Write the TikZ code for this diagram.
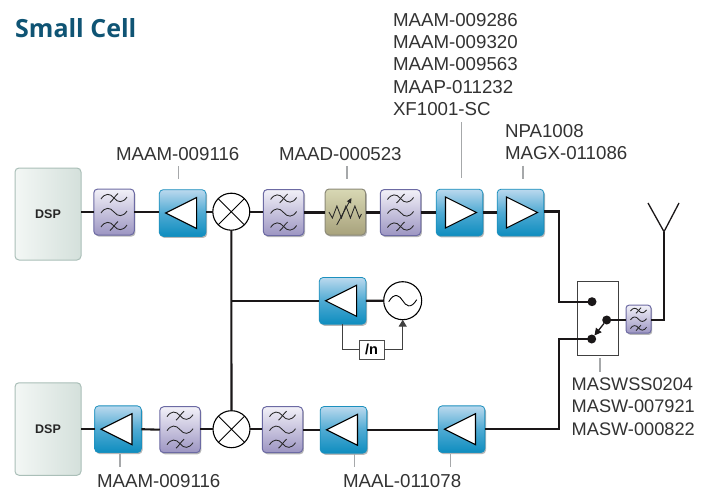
\documentclass[tikz,border=0pt]{standalone}
\usepackage{fontspec}
\setmainfont{Liberation Sans}
\newfontfamily\titlefont{Open Sans}
\usetikzlibrary{shadows,arrows.meta,calc}
\definecolor{wire}{HTML}{1A1718}
\definecolor{leader}{HTML}{A6A8AA}
\definecolor{labelc}{HTML}{333333}
\definecolor{titlec}{HTML}{0F5474}
\definecolor{ampedge}{HTML}{1C90BE}
\definecolor{amptop}{HTML}{BBD9EE}
\definecolor{ampmid}{HTML}{4FAAD3}
\definecolor{ampbot}{HTML}{0E8DBF}
\definecolor{filtedge}{HTML}{6C6AA3}
\definecolor{filttop}{HTML}{F2F1F8}
\definecolor{filtbot}{HTML}{9C95C2}
\definecolor{attedge}{HTML}{8C8A78}
\definecolor{atttop}{HTML}{D8D8B4}
\definecolor{attbot}{HTML}{A8A27C}
\definecolor{dspedge}{HTML}{AABFB8}
\definecolor{dspleft}{HTML}{F3F7F5}
\definecolor{dspright}{HTML}{D4E0DB}
\tikzset{
  softshadow/.style={drop shadow={shadow xshift=1.2pt,shadow yshift=-1.6pt,opacity=.28,fill=black}},
  block/.style={inner sep=0pt,outer sep=0pt,rounded corners=4pt,softshadow},
  ampbox/.style={block,minimum width=46.7pt,minimum height=46.7pt,draw=ampedge,line width=.8pt,
     top color=amptop,bottom color=ampbot,middle color=ampmid},
  filtbox/.style={block,minimum width=40.5pt,minimum height=46pt,draw=filtedge,line width=1pt,
     top color=filttop,bottom color=filtbot},
  smallfilt/.style={filtbox,minimum width=25pt,minimum height=28pt,rounded corners=3pt},
  attbox/.style={block,minimum width=40.5pt,minimum height=46pt,draw=attedge,line width=1pt,
     top color=atttop,bottom color=attbot},
  dspbox/.style={inner sep=0pt,outer sep=0pt,rounded corners=4pt,minimum width=66pt,draw=dspedge,line width=1pt,
     left color=dspleft,right color=dspright,font=\fontsize{12.5}{14}\selectfont\bfseries,text=black!85},
  mixer/.style={circle,draw=black,line width=1.1pt,fill=white,minimum size=37pt,inner sep=0pt,outer sep=0pt,
     path picture={\draw[line width=.9pt] ($(path picture bounding box.center)+(-13,-13)$)--($(path picture bounding box.center)+(13,13)$)
       ($(path picture bounding box.center)+(13,-13)$)--($(path picture bounding box.center)+(-13,13)$);}},
  osc/.style={circle,draw=black,line width=1.1pt,fill=white,minimum size=38pt,inner sep=0pt,outer sep=0pt},
  swbox/.style={draw=black!75,line width=1.1pt,fill=white,minimum width=41pt,minimum height=74pt,inner sep=0pt,outer sep=0pt},
  divbox/.style={draw=black!70,line width=1pt,fill=white,minimum width=25pt,minimum height=19pt,inner sep=0pt,outer sep=0pt,
     font=\fontsize{14.5}{15}\selectfont\bfseries},
  swdot/.style={circle,fill=wire,minimum size=9pt,inner sep=0pt,outer sep=0pt},
  rfwire/.style={draw=wire,line width=2.1pt},
  thin wire/.style={draw=black!75,line width=1.3pt},
  leaderline/.style={draw=leader,line width=1.2pt},
  partlabel/.style={font=\fontsize{18.7}{22.2}\selectfont,text=labelc,inner sep=0pt,outer sep=0pt},
  swlabel/.style={partlabel,font=\fontsize{18.2}{22.2}\selectfont},
  glyph/.style={line width=.85pt,draw=black!85},
  tri/.style={draw=black,line width=1.1pt,fill=white,line join=miter}
}
\newcommand{\onewave}[1]{(-13,#1+1) .. controls (-9,#1-5) and (-4,#1-5) .. (0,#1) .. controls (4,#1+5) and (9,#1+5) .. (13,#1-1)}
\newcommand{\filtglyph}[2][1]{%
  \begin{scope}[shift={(#2.center)},scale=#1]
    \draw[glyph] \onewave{-14} \onewave{0} \onewave{14};
    \draw[glyph] (-4,-9.5) .. controls (-1,-12) and (1,-16) .. (4,-18.5);
    \draw[glyph] (-4,18.5) .. controls (-1,16) and (1,12) .. (4,9.5);
  \end{scope}}
\newcommand{\lefttri}[1]{\draw[tri] ($(#1.center)+(-17,0)$) -- ($(#1.center)+(14,-15.5)$) -- ($(#1.center)+(14,15.5)$) -- cycle;}
\newcommand{\righttri}[1]{\draw[tri] ($(#1.center)+(17,0)$) -- ($(#1.center)+(-14,-15.5)$) -- ($(#1.center)+(-14,15.5)$) -- cycle;}
\begin{document}
\begin{tikzpicture}[x=1pt,y=-1pt]
\useasboundingbox (0,0) rectangle (710,490);
\fill[white] (0,0) rectangle (710,490);

% title
\node[anchor=base west,inner sep=0pt,text=titlec,font=\fontsize{25}{27}\selectfont\titlefont\bfseries] (title) at (15,37) {Small Cell};

% upper chain
\node[dspbox,minimum height=92pt] (dspa) at (48,214) {DSP};
\node[filtbox] (fa) at (114,212) {};
\node[ampbox] (aa) at (182.6,213) {};
\node[mixer] (mxa) at (231.3,211.7) {};
\node[filtbox] (fb) at (283.6,212.5) {};
\node[attbox] (att) at (345.4,212) {};
\node[filtbox] (fc) at (400.5,212.5) {};
\node[ampbox] (ab) at (459.5,212.5) {};
\node[ampbox] (ac) at (520.5,212.5) {};

% LO
\node[ampbox] (lo) at (342.6,300.8) {};
\node[osc] (vco) at (402.7,300.7) {};
\node[divbox] (div) at (371.5,349.5) {/n};

% lower chain
\node[dspbox,minimum height=92.5pt] (dspb) at (48,429) {DSP};
\node[ampbox] (ad) at (118,429.2) {};
\node[filtbox] (fd) at (180,429.7) {};
\node[mixer] (mxb) at (231.5,429.2) {};
\node[filtbox] (fe) at (282.5,429.7) {};
\node[ampbox] (ae) at (343.5,429.8) {};
\node[ampbox] (af) at (461.5,429.2) {};

% switch and antenna
\node[swbox] (sw) at (598.2,318.7) {};
\node[swdot] (sa) at (592,301.7) {};
\node[swdot] (sb) at (606.7,320) {};
\node[swdot] (sc) at (591.7,339) {};
\node[smallfilt] (ff) at (638.5,319.2) {};
\coordinate (antbase) at (664,231.7);
\coordinate (antl) at (648,203);
\coordinate (antr) at (679,203);
\coordinate (jct) at (231.4,300.8);
\coordinate (upbend) at (559,211.5);
\coordinate (lowbend) at (559,429.3);

% connectors
\draw[rfwire] (dspa.east |- fa.west) -- (fa.west);
\draw[rfwire] (fa.east) -- (aa.west |- fa.east);
\draw[rfwire] (aa.east |- mxa.west) -- (mxa.west);
\draw[rfwire] (mxa.east) -- (fb.west |- mxa.east);
\draw[rfwire] (fb.east) -- (att.west |- fb.east);
\draw[rfwire] (att.east |- fc.west) -- (fc.west);
\draw[rfwire] (fc.east) -- (ab.west);
\draw[rfwire] (ab.east) -- (ac.west);
\draw[rfwire,line join=miter] (ac.east |- upbend) -- (upbend) |- (sa.center);
\draw[rfwire] (mxa.south) -- (mxb.north);
\draw[rfwire] (jct) -- (lo.west |- jct);
\draw[rfwire] (lo.east) -- (vco.west);
\draw[rfwire] (dspb.east |- ad.west) -- (ad.west);
\draw[rfwire] (ad.east) -- (fd.west);
\draw[rfwire] (fd.east |- mxb.east) -- (mxb.west);
\draw[rfwire] (mxb.east) -- (fe.west |- mxb.east);
\draw[rfwire] (fe.east |- ae.west) -- (ae.west);
\draw[rfwire] (ae.east) -- (af.west |- ae.east);
\draw[rfwire,line join=miter] (af.east |- lowbend) -- (lowbend) |- (sc.center);
\draw[rfwire] (sb) -- (ff.west |- sb);
\draw[rfwire,line join=miter] (ff.east |- sb) -- (antbase |- sb) -- (antbase);
\draw[draw=wire,line width=1.3pt,line join=miter] (antl) -- (antbase) -- (antr);
\draw[thin wire] (lo.south) -- (lo.south |- div.west) -- (div.west);
\draw[thin wire,-{Triangle[length=7pt,width=8pt]}] (div.east) -- (vco.south |- div.east) -- (vco.south);
\draw[draw=wire,line width=1.3pt,-{Triangle[length=7pt,width=7pt]}] (sb) -- (sc);

% glyphs
\filtglyph{fa}\filtglyph{fb}\filtglyph{fc}\filtglyph{fd}\filtglyph{fe}
\filtglyph[0.62]{ff}
\lefttri{aa}\righttri{ab}\righttri{ac}\lefttri{lo}\lefttri{ad}\lefttri{ae}\lefttri{af}
\draw[glyph,line join=miter] ($(att.center)+(-16.5,0)$) -- ++(3.5,6) -- ++(4.5,-12) -- ++(4.5,12) -- ++(4.5,-12) -- ++(4.5,12) -- ++(4.5,-12) -- ++(4.5,12) -- ++(2,-4);
\draw[glyph,-{Triangle[length=5pt,width=4.5pt]}] ($(att.center)+(-8.7,13)$) -- ($(att.center)+(6,-14)$);
\draw[line width=.9pt,black] ($(vco.center)+(-14,1)$) .. controls ($(vco.center)+(-8,-9)$) and ($(vco.center)+(-3,-5)$) .. (vco.center) .. controls ($(vco.center)+(3,5)$) and ($(vco.center)+(8,9)$) .. ($(vco.center)+(14,-1)$);

% leaders
\coordinate (la1) at (178.7,166); \coordinate (la2) at (178.7,179.3);
\coordinate (lb1) at (347,166); \coordinate (lb2) at (347,179.3);
\coordinate (lc1) at (461.7,122); \coordinate (lc2) at (461.7,177.7);
\coordinate (ld1) at (523,165.7); \coordinate (ld2) at (523,179);
\coordinate (le1) at (600,358); \coordinate (le2) at (600,371.7);
\coordinate (lf1) at (120,454); \coordinate (lf2) at (120,467.3);
\coordinate (lg1) at (354.7,454); \coordinate (lg2) at (354.7,467.3);
\coordinate (lh1) at (450.7,454); \coordinate (lh2) at (450.7,467.3);
\foreach \n in {a,b,c,d,e,f,g,h} \draw[leaderline] (l\n1) -- (l\n2);

% labels
\node[partlabel,anchor=base west] (t1) at (116,160.5) {MAAM-009116};
\node[partlabel,anchor=base west] (t2) at (279,160.5) {MAAD-000523};
\node[partlabel,anchor=north west,align=left] (t3) at (393,13.5) {MAAM-009286\\MAAM-009320\\MAAM-009563\\MAAP-011232\\XF1001-SC};
\node[partlabel,anchor=north west,align=left] (t4) at (505,124.5) {NPA1008\\MAGX-011086};
\node[swlabel,anchor=north west,align=left] (t5) at (571.7,378) {MASWSS0204\\MASW-007921\\MASW-000822};
\node[partlabel,anchor=base west] (t6) at (97,487) {MAAM-009116};
\node[partlabel,anchor=base west] (t7) at (343,487) {MAAL-011078};
\end{tikzpicture}
\end{document}
